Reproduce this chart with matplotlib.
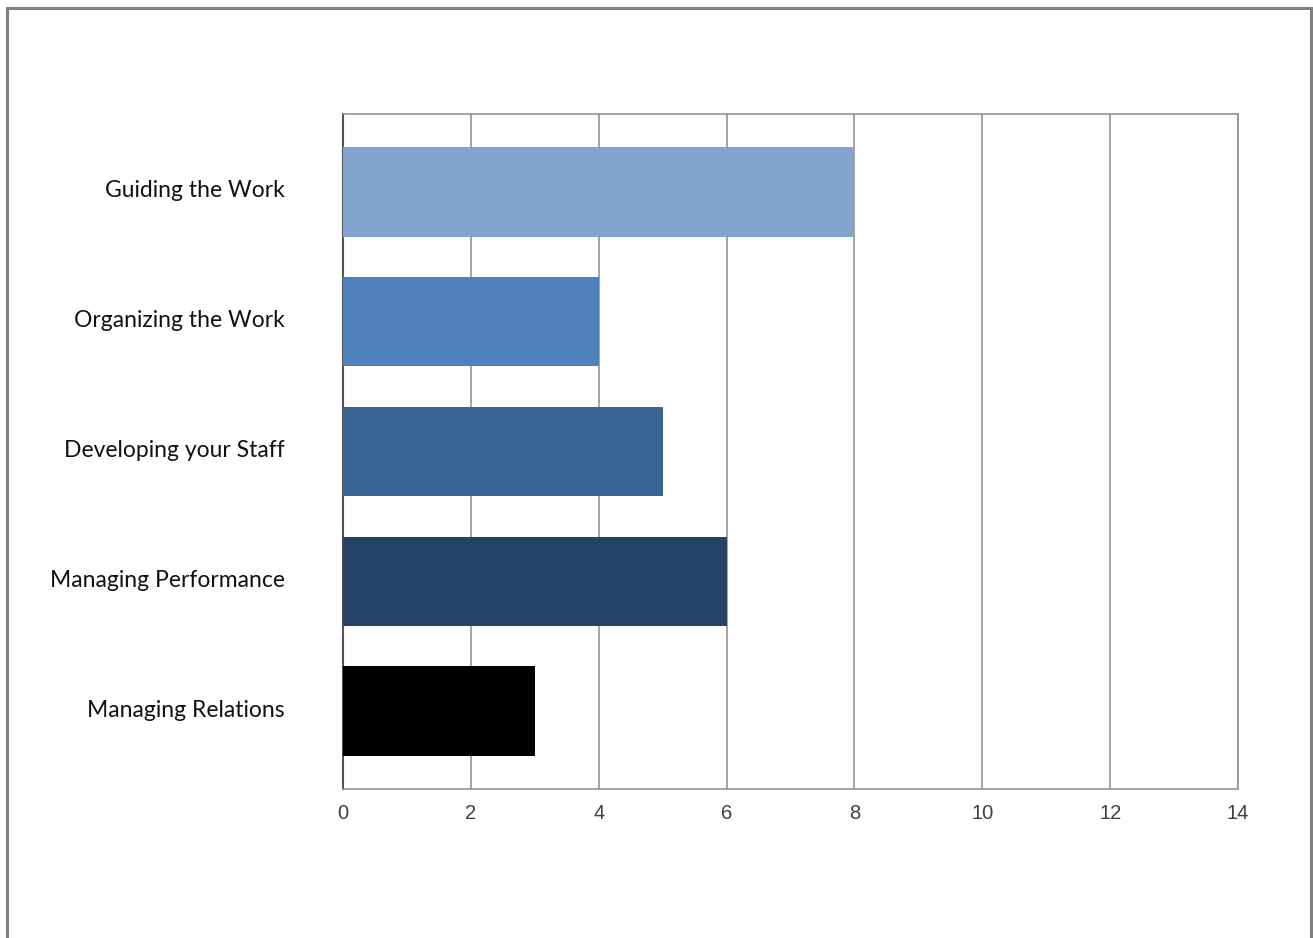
import matplotlib.pyplot as plt
import matplotlib.transforms as mtransforms
from matplotlib.patches import Rectangle

categories = ['Guiding the Work', 'Organizing the Work', 'Developing your Staff',
              'Managing Performance', 'Managing Relations']
values = [8, 4, 5, 6, 3]
bar_colors = ['#82a4cf', '#4f81bd', '#386494', '#254366', '#000000']
x_ticks = [0, 2, 4, 6, 8, 10, 12, 14]

fig = plt.figure(figsize=(13.13, 9.38), dpi=100)
ax = fig.add_axes([343 / 1313, 149 / 938, 895 / 1313, 675 / 938])

ypos = list(range(len(categories)))
ax.barh(ypos, values, height=0.69, color=bar_colors, zorder=3)

ax.set_xlim(0, 14)
ax.set_ylim(len(categories) - 0.4, -0.6)
ax.set_xticks(x_ticks)
ax.set_xticklabels([str(t) for t in x_ticks], family='Liberation Sans',
                   fontsize=14.5, color='#404040')
ax.set_yticks(ypos)
ax.set_yticklabels(categories, family='Lato', fontsize=16.5, color='#111111')
ax.tick_params(axis='y', length=0, pad=42)
ax.tick_params(axis='x', length=0, pad=10.5)

# nudge category labels up a touch
shift = mtransforms.ScaledTranslation(0, 3 / 100, fig.dpi_scale_trans)
for lbl in ax.get_yticklabels():
    lbl.set_transform(lbl.get_transform() + shift)

ax.grid(axis='x', color='#8c8c8c', linewidth=1.1, zorder=0)
for side in ['top', 'right', 'bottom']:
    ax.spines[side].set_color('#8c8c8c')
    ax.spines[side].set_linewidth(1.1)
ax.spines['left'].set_color('#555555')
ax.spines['left'].set_linewidth(1.5)

# outer frame (bottom edge runs off the image)
fig.patches.append(Rectangle((7 / 1313, -0.05), 1304 / 1313, 1.05 - 8 / 938,
                             transform=fig.transFigure, fill=False,
                             edgecolor='#808080', linewidth=2.2))

fig.savefig('out.png', dpi=100)
